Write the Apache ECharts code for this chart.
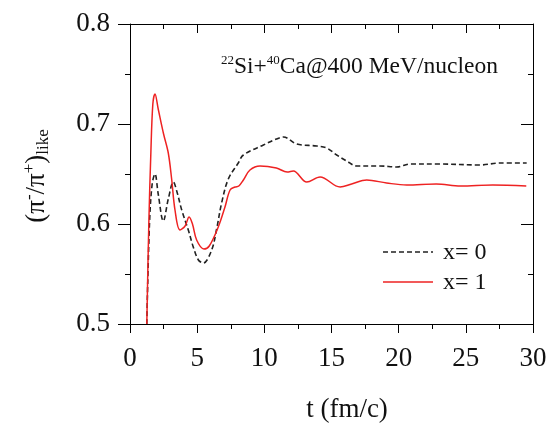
<!DOCTYPE html>
<html>
<head>
<meta charset="utf-8">
<script src="https://cdn.jsdelivr.net/npm/echarts@6/dist/echarts.min.js"></script>
<style>
  html, body { margin: 0; padding: 0; background: #fff; }
  .layer { position: absolute; left: 0; top: 0; width: 556px; height: 436px; }
</style>
</head>
<body>
<div id="frame" class="layer"></div>
<div id="chart" class="layer"></div>
<script>
// x = 0 (dashed black)
const tX0 = [1.25, 1.45, 1.65, 1.86, 2.1, 2.48, 2.85, 3.23, 3.5, 3.85, 4.34, 4.71, 5.09, 5.46, 6.08, 6.45, 6.82, 7.32, 8.06, 8.44, 9.93, 10.9, 11.42, 12.41, 13.9, 14.64, 15.39, 16.13, 16.88, 18.6, 19.86, 20.85, 23, 26.06, 27.55, 29.53];
const rX0 = [0.5, 0.6, 0.64, 0.65, 0.63, 0.603, 0.625, 0.642, 0.632, 0.614, 0.594, 0.577, 0.564, 0.561, 0.574, 0.595, 0.621, 0.645, 0.661, 0.669, 0.679, 0.685, 0.687, 0.68, 0.678, 0.676, 0.669, 0.663, 0.658, 0.658, 0.657, 0.66, 0.66, 0.659, 0.661, 0.661];
// x = 1 (solid red)
const tX1 = [1.25, 1.4, 1.55, 1.7, 1.86, 2.1, 2.5, 2.85, 3.1, 3.35, 3.72, 4.1, 4.4, 4.65, 4.96, 5.5, 5.9, 6.57, 7.07, 7.45, 7.82, 8.1, 8.44, 8.93, 9.68, 10.9, 11.7, 12.16, 13.16, 14.15, 15.64, 16.5, 17.62, 19.1, 20.6, 22.8, 24.6, 27, 29.5];
const rX1 = [0.5, 0.6, 0.67, 0.72, 0.73, 0.715, 0.69, 0.671, 0.645, 0.614, 0.594, 0.598, 0.607, 0.6, 0.584, 0.575, 0.578, 0.597, 0.617, 0.634, 0.637, 0.638, 0.644, 0.654, 0.658, 0.656, 0.652, 0.653, 0.642, 0.647, 0.637, 0.64, 0.644, 0.641, 0.639, 0.64, 0.638, 0.639, 0.638];
const seriesNames = ['x= 0', 'x= 1'];

const font = '"Liberation Serif", "Times New Roman", serif';
const zip = (xs, ys) => xs.map((x, i) => [x, ys[i]]);
const grid = { left: 130, right: 23, top: 24, bottom: 112 };
const xRange = { min: 0, max: 30, interval: 5 };
const yRange = { min: 0.5, max: 0.8, interval: 0.1 };

// ---- layer 1: frame, ticks and tick labels ----
const baseAxis = {
  axisLine: { show: true, onZero: false, lineStyle: { color: '#000', width: 1 } },
  splitLine: { show: false },
};
const tick = (inside, len) => ({ show: true, inside: inside, length: len, lineStyle: { color: '#000', width: 1 } });
const minor = () => ({ show: true, splitNumber: 2, length: 5, lineStyle: { color: '#000', width: 1 } });

const frame = echarts.init(document.getElementById('frame'));
frame.setOption({
  animation: false,
  textStyle: { fontFamily: font },
  grid: grid,
  xAxis: [
    { ...baseAxis, ...xRange, type: 'value', axisTick: tick(false, 9), minorTick: minor(),
      axisLabel: { fontSize: 27, color: '#111', margin: 21 } },
    { ...baseAxis, ...xRange, type: 'value', position: 'top', axisTick: tick(true, 9), minorTick: minor(),
      axisLabel: { show: false } },
  ],
  yAxis: [
    { ...baseAxis, ...yRange, type: 'value', axisTick: tick(false, 12), minorTick: minor(),
      axisLabel: { fontSize: 27, color: '#111', margin: 20, formatter: (v) => v.toFixed(1) } },
    { ...baseAxis, ...yRange, type: 'value', position: 'right', axisTick: tick(true, 12), minorTick: minor(),
      axisLabel: { show: false } },
  ],
  series: [],
});

// ---- layer 2: curves, titles and legend keys ----
const legendKey = (y, name, stroke, dash) => [
  { type: 'line', shape: { x1: 383, y1: y, x2: 433, y2: y }, style: { stroke: stroke, lineWidth: 1.6, lineDash: dash } },
  { type: 'text', x: 443, y: y + 1, style: { text: name, font: '24px ' + font, fill: '#111', verticalAlign: 'middle' } },
];

const chart = echarts.init(document.getElementById('chart'));
chart.setOption({
  animation: false,
  textStyle: { fontFamily: font },
  grid: grid,
  graphic: [
    {
      type: 'text',
      x: 221,
      y: 67,
      style: {
        text: '{s|22}Si+{s|40}Ca@400 MeV/nucleon',
        font: '23.5px ' + font,
        fill: '#111',
        verticalAlign: 'middle',
        rich: {
          s: { fontSize: 13, verticalAlign: 'top', padding: [0, 0, 12, 0], fontFamily: font, fill: '#111' },
        },
      },
    },
    ...legendKey(252, seriesNames[0], '#222', [5, 3]),
    ...legendKey(282, seriesNames[1], '#ee2222', null),
    {
      type: 'text',
      x: 347,
      y: 410,
      style: { text: 't (fm/c)', font: '27px ' + font, fill: '#111', align: 'center', verticalAlign: 'middle' },
    },
    {
      type: 'text',
      x: 37,
      y: 176,
      rotation: Math.PI / 2,
      style: {
        text: '(π{p|-}/π{p|+}){b|like}',
        font: '27px ' + font,
        fill: '#111',
        align: 'center',
        verticalAlign: 'middle',
        rich: {
          p: { fontSize: 17, verticalAlign: 'top', padding: [0, 0, 14, 0], fontFamily: font, fill: '#111' },
          b: { fontSize: 17, verticalAlign: 'bottom', padding: [12, 0, 0, 0], fontFamily: font, fill: '#111' },
        },
      },
    },
  ],
  xAxis: { ...xRange, type: 'value', show: false },
  yAxis: { ...yRange, type: 'value', show: false },
  series: [
    {
      name: seriesNames[0],
      type: 'line',
      smooth: 0.35,
      symbol: 'none',
      data: zip(tX0, rX0),
      lineStyle: { color: '#222', width: 1.6, type: [5, 3] },
    },
    {
      name: seriesNames[1],
      type: 'line',
      smooth: 0.35,
      symbol: 'none',
      data: zip(tX1, rX1),
      lineStyle: { color: '#ee2222', width: 1.5 },
    },
  ],
});
</script>
</body>
</html>
